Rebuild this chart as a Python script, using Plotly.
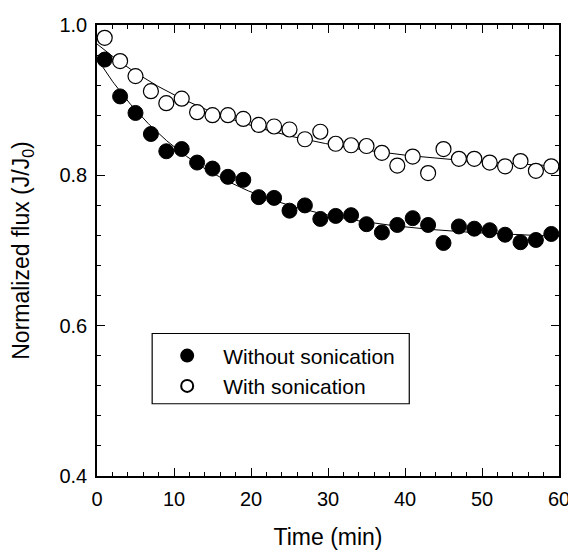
import numpy as np
import plotly.graph_objects as go

time_min = [1, 3, 5, 7, 9, 11, 13, 15, 17, 19, 21, 23, 25, 27, 29,
            31, 33, 35, 37, 39, 41, 43, 45, 47, 49, 51, 53, 55, 57, 59]
without_sonication = [0.954, 0.905, 0.883, 0.855, 0.832, 0.835, 0.817, 0.809, 0.798, 0.794,
                      0.771, 0.770, 0.753, 0.760, 0.742, 0.746, 0.747, 0.735, 0.724, 0.734,
                      0.743, 0.734, 0.710, 0.732, 0.729, 0.727, 0.721, 0.711, 0.714, 0.722]
with_sonication = [0.983, 0.952, 0.932, 0.912, 0.896, 0.902, 0.884, 0.880, 0.880, 0.875,
                   0.867, 0.865, 0.861, 0.848, 0.858, 0.842, 0.840, 0.839, 0.830, 0.813,
                   0.825, 0.803, 0.835, 0.822, 0.822, 0.817, 0.812, 0.819, 0.806, 0.812]

x_ticks = [0, 10, 20, 30, 40, 50, 60]
y_ticks = [0.4, 0.6, 0.8, 1.0]


def exp_fit(t, y):
    """Least-squares fit of y = a + b*exp(-k t); returns a function."""
    t = np.asarray(t, float)
    y = np.asarray(y, float)
    best = None
    for k in np.linspace(0.005, 0.5, 1000):
        A = np.column_stack([np.ones_like(t), np.exp(-k * t)])
        coef, *_ = np.linalg.lstsq(A, y, rcond=None)
        err = np.sum((A @ coef - y) ** 2)
        if best is None or err < best[0]:
            best = (err, k, coef)
    _, k, (a, b) = best
    return lambda tt: a + b * np.exp(-k * tt)


tt = np.linspace(0, 60, 300)
fit_wo = exp_fit(time_min, without_sonication)
fit_w = exp_fit(time_min, with_sonication)

FONT = "Liberation Sans, Arial, Helvetica, sans-serif"

fig = go.Figure()
fig.add_trace(go.Scatter(x=tt, y=fit_wo(tt), mode="lines",
                         line=dict(color="black", width=1), showlegend=False,
                         hoverinfo="skip"))
fig.add_trace(go.Scatter(x=tt, y=fit_w(tt), mode="lines",
                         line=dict(color="black", width=1), showlegend=False,
                         hoverinfo="skip"))
fig.add_trace(go.Scatter(x=time_min, y=without_sonication, mode="markers",
                         name="Without sonication",
                         marker=dict(symbol="circle", size=15, color="black",
                                     line=dict(color="black", width=1))))
fig.add_trace(go.Scatter(x=time_min, y=with_sonication, mode="markers",
                         name="With sonication",
                         marker=dict(symbol="circle", size=15, color="white",
                                     line=dict(color="black", width=1.2))))

axis_common = dict(showgrid=False, zeroline=False, showline=True, linecolor="black",
                   linewidth=1.6, mirror="allticks", ticks="inside", ticklen=8,
                   tickwidth=1.2, tickcolor="black", ticklabelstandoff=4,
                   ticklabeloverflow="allow",
                   tickfont=dict(family=FONT, size=20, color="black"))

fig.update_xaxes(range=[0, 60], tickvals=x_ticks, ticktext=[str(v) for v in x_ticks],
                 minor=dict(dtick=2, ticklen=4, ticks="inside", tickcolor="black", tickwidth=1),
                 title=dict(text="Time (min)", standoff=20,
                            font=dict(family=FONT, size=23, color="black")),
                 **axis_common)
fig.update_yaxes(range=[0.4, 1.0], tickvals=y_ticks, ticktext=["%.1f" % v for v in y_ticks],
                 minor=dict(tick0=0.4, dtick=0.04, ticklen=4, ticks="inside", tickcolor="black", tickwidth=1),
                 title=dict(text="Normalized flux (J/J<sub>0</sub>)", standoff=29,
                            font=dict(family=FONT, size=23, color="black")),
                 **axis_common)

# legend frame (reference pixel coords -> paper fractions of the plot area)
fig.add_shape(type="rect", xref="paper", yref="paper",
              x0=(148 - 92) / 469, x1=(409 - 92) / 469,
              y0=(476 - 402) / 462, y1=(476 - 330) / 462,
              line=dict(color="black", width=1.2), fillcolor="rgba(0,0,0,0)")

# the page body adds an 8px offset; the figure is sized so the plot area lands where the reference has it
fig.update_layout(
    width=568, height=545,
    margin=dict(l=84, r=15, t=6, b=77),
    paper_bgcolor="white", plot_bgcolor="white",
    font=dict(family=FONT, color="black"),
    legend=dict(x=(147 - 92) / 469, y=(476 - 332) / 462, xanchor="left", yanchor="top",
                bgcolor="rgba(0,0,0,0)", borderwidth=0, itemwidth=62,
                itemsizing="constant",
                font=dict(family=FONT, size=21, color="black"),
                tracegroupgap=0),
)

fig.write_html("out.html", config={"displayModeBar": False})
